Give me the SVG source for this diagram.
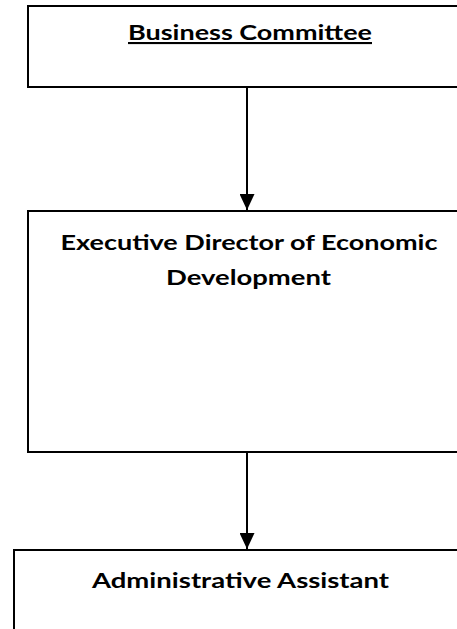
<svg xmlns="http://www.w3.org/2000/svg" width="457" height="629" viewBox="0 0 457 629">
<style>
.box{fill:#fff;stroke:#000;stroke-width:2}
.t{font-family:Lato,"Open Sans","Liberation Sans",sans-serif;font-weight:bold;font-size:21px;fill:#000;text-anchor:middle}
.c{stroke:#000;stroke-width:2;fill:none}
</style>
<defs>
<marker id="ah" viewBox="0 0 16 15" refX="16" refY="7.5" markerUnits="userSpaceOnUse" markerWidth="16" markerHeight="15" orient="auto">
<path d="M0,0 L16,7.5 L0,15 Z" fill="#000"/>
</marker>
</defs>
<g id="n1">
<rect class="box" x="28" y="6" width="460" height="81"/>
<text class="t" x="250" y="40" textLength="244" lengthAdjust="spacingAndGlyphs" text-decoration="underline">Business Committee</text>
</g>
<g id="n2">
<rect class="box" x="28" y="211" width="460" height="241"/>
<text class="t" x="249" y="250" textLength="377" lengthAdjust="spacingAndGlyphs">Executive Director of Economic</text>
<text class="t" x="248.5" y="285" textLength="165" lengthAdjust="spacingAndGlyphs">Development</text>
</g>
<g id="n3">
<rect class="box" x="14" y="550" width="474" height="100"/>
<text class="t" x="240.5" y="588" textLength="297" lengthAdjust="spacingAndGlyphs">Administrative Assistant</text>
</g>
<g id="connectors">
<line class="c" x1="247" y1="87" x2="247" y2="210" marker-end="url(#ah)"/>
<line class="c" x1="247" y1="452" x2="247" y2="549" marker-end="url(#ah)"/>
</g>
</svg>
